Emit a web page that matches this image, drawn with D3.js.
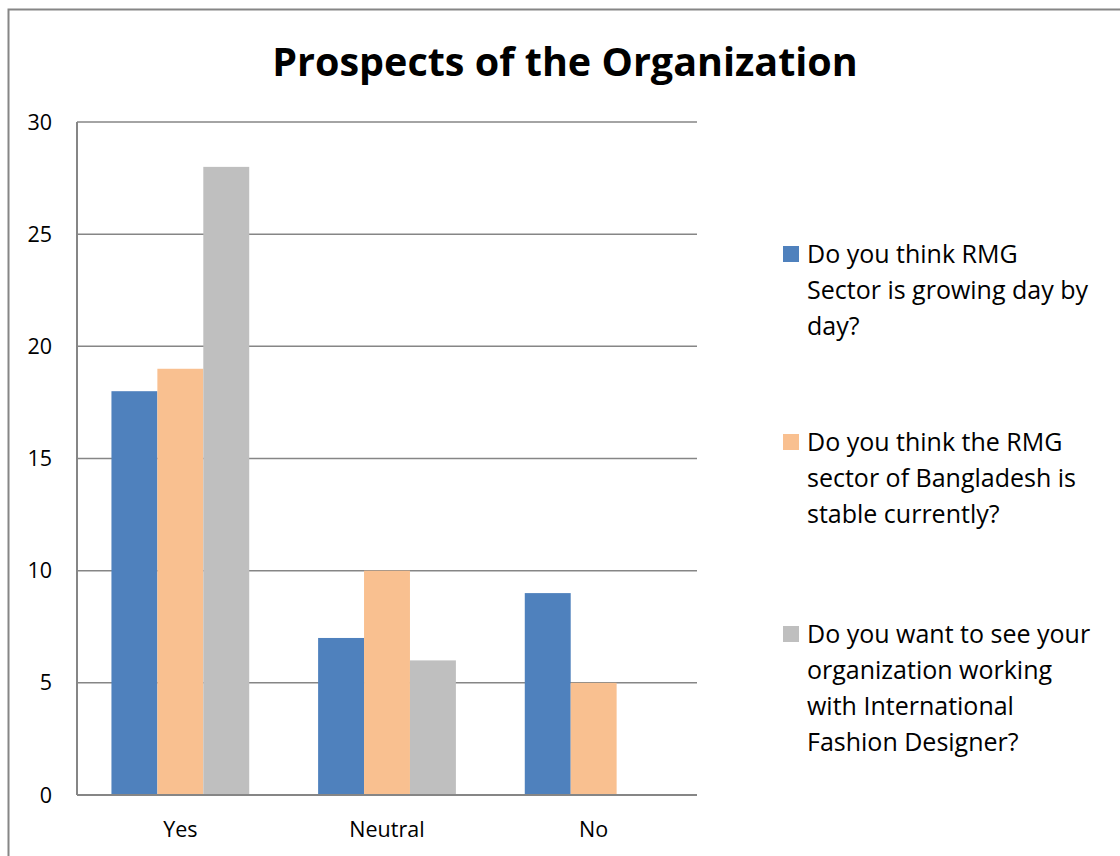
<!DOCTYPE html>
<html>
<head>
<meta charset="utf-8">
<script src="https://cdn.jsdelivr.net/npm/d3@7"></script>
<style>
  html, body { margin: 0; padding: 0; background: #fff; }
  svg { display: block; font-family: "Open Sans", "Noto Sans", sans-serif; }
</style>
</head>
<body>
<svg id="chart" width="1120" height="856"></svg>
<script>
// Survey answers per category
const categories = ["Yes", "Neutral", "No"];
const seriesNames = [
  ["Do you think RMG", "Sector is growing day by", "day?"],
  ["Do you think the RMG", "sector of Bangladesh is", "stable currently?"],
  ["Do you want to see your", "organization working", "with International", "Fashion Designer?"]
];
const growingValues = [18, 7, 9];
const stableValues = [19, 10, 5];
const designerValues = [28, 6, 0];
const seriesColors = ["#4F81BD", "#F9C090", "#BFBFBF"];
const yTicks = [0, 5, 10, 15, 20, 25, 30];
const title = "Prospects of the Organization";

const seriesValues = [growingValues, stableValues, designerValues];

const svg = d3.select("#chart");
const plot = { left: 77, right: 697, top: 122, bottom: 795 };

// outer chart frame
svg.append("rect")
  .attr("x", 8.5).attr("y", 9.5)
  .attr("width", 1200).attr("height", 1000)
  .attr("fill", "none").attr("stroke", "#868686").attr("stroke-width", 2);

svg.append("text")
  .attr("x", 565).attr("y", 76)
  .attr("text-anchor", "middle")
  .attr("font-size", 39.5).attr("font-weight", "bold")
  .attr("fill", "#000")
  .text(title);

const x = d3.scaleBand().domain(categories).range([plot.left, plot.right]);
const y = d3.scaleLinear().domain([0, 30]).range([plot.bottom, plot.top]);

// gridlines
svg.append("g").selectAll("line").data(yTicks).join("line")
  .attr("x1", plot.left).attr("x2", plot.right)
  .attr("y1", d => y(d)).attr("y2", d => y(d))
  .attr("stroke", "#868686").attr("stroke-width", 1.5);

// bars: three series clustered inside each category band (gap width 150%)
const inner = d3.scaleBand().domain(d3.range(seriesValues.length))
  .range([0, x.bandwidth() * 3 / 4.5]);
const offset = (x.bandwidth() - inner.range()[1]) / 2;

const bars = svg.append("g");
seriesValues.forEach((vals, s) => {
  bars.selectAll(null).data(vals).join("rect")
    .attr("x", (d, i) => x(categories[i]) + offset + inner(s))
    .attr("y", d => y(d))
    .attr("width", inner.bandwidth())
    .attr("height", d => y(0) - y(d))
    .attr("fill", seriesColors[s]);
});

// axis lines drawn over the bars
svg.append("line")
  .attr("x1", plot.left).attr("x2", plot.right)
  .attr("y1", y(0)).attr("y2", y(0))
  .attr("stroke", "#868686").attr("stroke-width", 2);
svg.append("line")
  .attr("x1", plot.left).attr("x2", plot.left)
  .attr("y1", plot.top).attr("y2", plot.bottom)
  .attr("stroke", "#868686").attr("stroke-width", 2);

// y tick labels
svg.append("g").selectAll("text").data(yTicks).join("text")
  .attr("x", 52).attr("y", d => y(d))
  .attr("dy", "0.35em")
  .attr("text-anchor", "end")
  .attr("font-size", 21.5).attr("fill", "#000")
  .text(d => d);

// category labels
svg.append("g").selectAll("text").data(categories).join("text")
  .attr("x", d => x(d) + x.bandwidth() / 2)
  .attr("y", 829)
  .attr("dy", "0.35em")
  .attr("text-anchor", "middle")
  .attr("font-size", 21.5).attr("fill", "#000")
  .text(d => d);

// legend
const legendTop = [254, 442, 634];
const lineH = 36;
const legend = svg.append("g");
seriesNames.forEach((lines, s) => {
  legend.append("rect")
    .attr("x", 783).attr("y", legendTop[s] - 8)
    .attr("width", 16).attr("height", 16)
    .attr("fill", seriesColors[s]);
  const t = legend.append("text")
    .attr("font-size", 25).attr("fill", "#000");
  lines.forEach((ln, k) => {
    t.append("tspan")
      .attr("x", 807).attr("y", legendTop[s] + k * lineH)
      .attr("dy", "0.35em")
      .text(ln);
  });
});
</script>
</body>
</html>
